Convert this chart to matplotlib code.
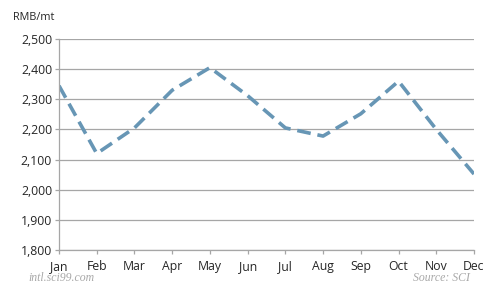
import matplotlib.pyplot as plt
import numpy as np

months = ['Jan', 'Feb', 'Mar', 'Apr', 'May', 'Jun',
          'Jul', 'Aug', 'Sep', 'Oct', 'Nov', 'Dec']
price = [2345, 2120, 2205, 2330, 2405, 2312, 2205, 2178, 2252, 2360, 2200, 2052]
yticks = [1800, 1900, 2000, 2100, 2200, 2300, 2400, 2500]

plt.rcParams['font.family'] = ['Open Sans', 'DejaVu Sans']

fig = plt.figure(figsize=(4.92, 3.03), dpi=100)
ax = fig.add_axes([59 / 492, 1 - 250 / 303, (474 - 59) / 492, (250 - 39) / 303])

x = np.arange(len(months))
ax.plot(x, price, color='#6796b5', lw=2.6, dashes=(3.8, 1.9), solid_capstyle='butt')

ax.set_xlim(0, len(months) - 1)
ax.set_ylim(1800, 2500)
ax.set_yticks(yticks)
ax.set_yticklabels(['{:,}'.format(v) for v in yticks])
ax.set_xticks(x)
ax.set_xticklabels(months)
ax.grid(axis='y', color='#a6a6a6', lw=0.9)
ax.set_axisbelow(True)
for s in ['top', 'right']:
    ax.spines[s].set_visible(False)
for s in ['left', 'bottom']:
    ax.spines[s].set_color('#a6a6a6')
    ax.spines[s].set_linewidth(0.9)
ax.tick_params(axis='both', colors='#a6a6a6', labelcolor='#262626', labelsize=8.8, length=3, width=0.9)
ax.tick_params(axis='x', pad=4)
ax.tick_params(axis='y', pad=2)

fig.text(13 / 492, 1 - 18 / 303, 'RMB/mt', fontsize=7.8, color='#262626', va='center')
fig.text(28 / 492, 1 - 278 / 303, 'intl.sci99.com', fontsize=8.5, color='#a8a8a8',
         style='italic', family='Liberation Serif', va='center')
fig.text(470 / 492, 1 - 278 / 303, 'Source: SCI', fontsize=8.5, color='#a8a8a8',
         style='italic', family='Liberation Serif', va='center', ha='right')

fig.savefig('out.png', dpi=100)
